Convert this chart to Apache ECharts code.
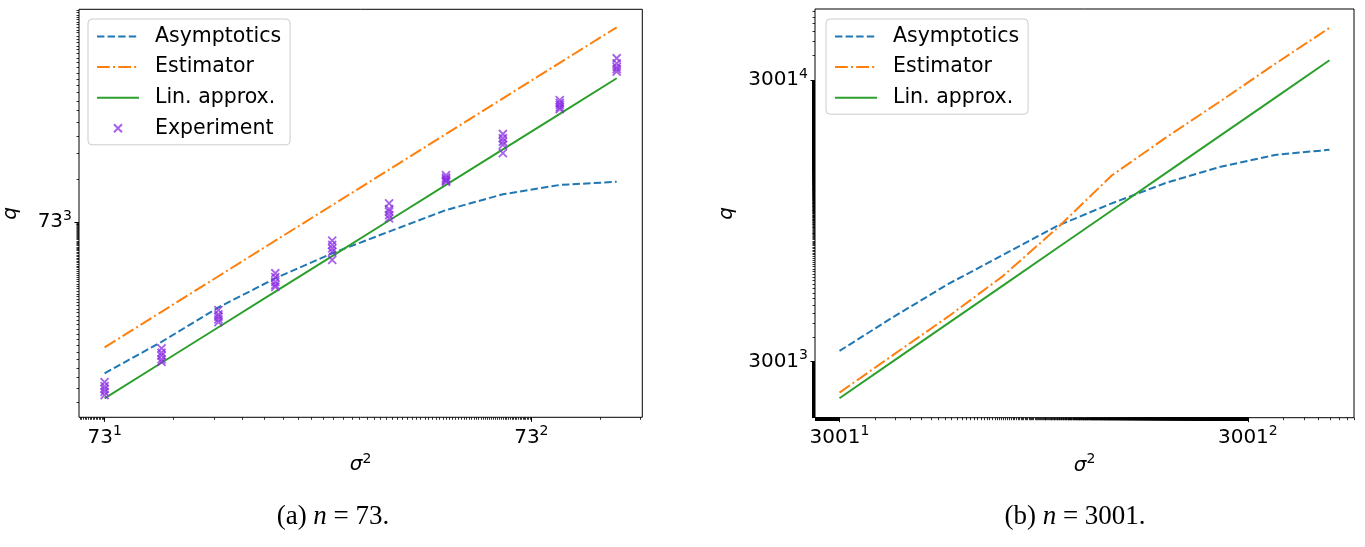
<!DOCTYPE html>
<html><head><meta charset="utf-8">
<script src="https://cdn.jsdelivr.net/npm/echarts@6/dist/echarts.min.js"></script>
<style>html,body{margin:0;padding:0;background:#fff}#c{width:1365px;height:547px}</style>
</head><body><div id="c"></div>
<script>
// ---------- panel (a): n = 73 ----------
const baseA = 73;
const sigmaA = [73, 129.4, 229.2, 406.1, 719.6, 1275, 2260, 4003, 7093, 12568];
const asymA  = [34160, 56660, 98560, 157300, 235500, 333400, 471800, 607700, 706300, 743600];
const estA   = [51800, 91800, 162600, 288200, 510600, 904700, 1604000, 2841000, 5033000, 8918000];
const linA   = [22820, 40450, 71650, 126900, 225000, 398600, 706500, 1251000, 2217000, 3929000];
const expA = [
  [29650, 27800, 26520, 25300, 24030],
  [50900, 47520, 45330, 42690, 41070],
  [94420, 88160, 84820, 81260, 77850],
  [170700, 160100, 148800, 141400, 137200],
  [288100, 269000, 254400, 241600, 211500],
  [525300, 478000, 459900, 434900, 413100],
  [827800, 793000, 772800, 756500, 743600],
  [1603000, 1497000, 1415000, 1344000, 1177000],
  [2764000, 2648000, 2559000, 2462000, 2389000],
  [5421000, 4995000, 4724000, 4545000, 4373000]
];
// ---------- panel (b): n = 3001 ----------
const baseB = 3001;
const sigmaB = [3001, 8730, 25390, 73820, 214700, 624300, 1816000, 5281000, 15360000, 44670000];
const asymB  = [3.664e10, 9.731e10, 2.463e11, 5.620e11, 1.282e12, 2.432e12, 4.364e12, 6.888e12, 9.641e12, 1.114e13];
const estB   = [1.120e10, 3.320e10, 9.770e10, 3.074e11, 1.205e12, 5.370e12, 1.585e13, 4.452e13, 1.281e14, 3.568e14];
const linB   = [9.545e9, 2.777e10, 8.075e10, 2.348e11, 6.828e11, 1.986e12, 5.775e12, 1.680e13, 4.885e13, 1.421e14];

// tick labels (exponents of the base) and axis limits (exponents)
const xTickExpA = [1, 2], yTickExpA = [3];
const xTickExpB = [1, 2], yTickExpB = [3, 4];
const xLimA = [0.94, 2.26], yLimA = [2.268, 3.7975];
const xLimB = [0.94, 2.26], yLimB = [2.801, 4.252];

const seriesNames = ['Asymptotics', 'Estimator', 'Lin. approx.', 'Experiment'];
const captions = [['(a) ', 'n', ' = 73.'], ['(b) ', 'n', ' = 3001.']];

const FONT = 'DejaVu Sans';
const C_BLUE = '#1f77b4', C_ORANGE = '#ff7f0e', C_GREEN = '#2ca02c', C_PURPLE = '#8a2be2';

function minorTicks(base, lo, hi) {
  const out = [];
  for (let e = Math.floor(lo); e <= Math.ceil(hi); e++) {
    const p = Math.pow(base, e);
    for (let k = 2; k < base; k++) {
      const le = e + Math.log(k) / Math.log(base);
      if (le >= lo && le <= hi) out.push(k * p);
    }
  }
  return out;
}
const tickRich = {
  b: {fontFamily: FONT, fontSize: 20, color: '#000', lineHeight: 26},
  s: {fontFamily: FONT, fontSize: 14, color: '#000', verticalAlign: 'top', lineHeight: 15}
};
const nameRich = {
  i: {fontFamily: FONT, fontStyle: 'italic', fontSize: 20, color: '#000', lineHeight: 26},
  s: {fontFamily: FONT, fontSize: 14, color: '#000', verticalAlign: 'top', lineHeight: 15}
};
function axes(dim, gridIndex, base, lim, majorsExp, name, nameGap, margin) {
  const min = Math.pow(base, lim[0]), max = Math.pow(base, lim[1]);
  const majors = majorsExp.map(e => Math.pow(base, e));
  const pos = dim === 'x' ? 'bottom' : 'left';
  return [{
    type: 'log', logBase: base, gridIndex, min, max, position: pos,
    axisLine: {show: false}, splitLine: {show: false},
    axisTick: {show: true, customValues: majors, length: 4.5, lineStyle: {color: '#000', width: 1}},
    axisLabel: {show: true, customValues: majors, margin,
      formatter: v => '{b|' + base + '}{s|' + Math.round(Math.log(v) / Math.log(base)) + '}', rich: tickRich},
    name, nameLocation: 'middle', nameGap, nameRotate: dim === 'y' ? 90 : 0,
    nameTextStyle: {rich: nameRich}
  }, {
    type: 'log', logBase: base, gridIndex, min, max, position: pos,
    axisLine: {show: false}, splitLine: {show: false}, axisLabel: {show: false},
    axisTick: {show: true, customValues: minorTicks(base, lim[0], lim[1]), length: 2.5,
      lineStyle: {color: '#000', width: 0.8}}
  }];
}
const pairs = (xs, ys) => xs.map((x, i) => [x, ys[i]]);
const expData = [];
sigmaA.forEach((s, i) => expA[i].forEach(q => expData.push([s, q])));

function lineSeries(name, data, xi, color, type) {
  return {
    name, type: 'line', data, xAxisIndex: xi, yAxisIndex: xi, symbol: 'none', showSymbol: false,
    lineStyle: {color, width: 2, type}, itemStyle: {color}, silent: true, animation: false, z: 3
  };
}
const DASH = [7.4, 3.2], DASHDOT = [12.8, 3.2, 2, 3.2];

const legendCommon = {
  orient: 'vertical', itemWidth: 42, itemHeight: 14, itemGap: 9.6,
  backgroundColor: 'rgba(255,255,255,0.8)', borderColor: '#cccccc', borderWidth: 1, borderRadius: 4,
  padding: [7, 9, 6, 8], selectedMode: false,
  textStyle: {fontFamily: FONT, fontSize: 20.5, color: '#000', padding: [0, 0, 0, 11], lineHeight: 20}
};
const noSym = {opacity: 0};
const xIcon = 'path://M0,0M3,3L11,11M11,3L3,11M14,14';

const option = {
  animation: false,
  backgroundColor: '#fff',
  grid: [
    {left: 77.6, top: 9.3, width: 564.7, height: 408, show: true, borderColor: '#000', borderWidth: 1, backgroundColor: 'transparent'},
    {left: 815, top: 9, width: 539, height: 408.7, show: true, borderColor: '#000', borderWidth: 1, backgroundColor: 'transparent'}
  ],
  xAxis: [
    ...axes('x', 0, baseA, xLimA, xTickExpA, '{i|σ}{s|2}', 32, 7),
    ...axes('x', 1, baseB, xLimB, xTickExpB, '{i|σ}{s|2}', 32, 7)
  ],
  yAxis: [
    ...axes('y', 0, baseA, yLimA, yTickExpA, '{i|q}', 55, 7),
    ...axes('y', 1, baseB, yLimB, yTickExpB, '{i|q}', 75, 7)
  ],
  legend: [
    Object.assign({}, legendCommon, {left: 88, top: 19,
      data: [
        {name: seriesNames[0], itemStyle: noSym},
        {name: seriesNames[1], itemStyle: noSym},
        {name: seriesNames[2], itemStyle: noSym},
        {name: seriesNames[3], icon: xIcon}
      ]}),
    Object.assign({}, legendCommon, {left: 826, top: 19,
      data: seriesNames.slice(0, 3).map(n => ({name: n, itemStyle: noSym}))})
  ],
  graphic: captions.map((c, i) => ({
    type: 'text', x: i === 0 ? 333 : 1075, y: 517, z: 10,
    style: {
      text: '{r|' + c[0] + '}{i|' + c[1] + '}{r|' + c[2] + '}',
      align: 'center', verticalAlign: 'middle',
      rich: {
        r: {fontFamily: 'Liberation Serif', fontSize: 27, color: '#000'},
        i: {fontFamily: 'Liberation Serif', fontStyle: 'italic', fontSize: 27, color: '#000'}
      }
    }
  })),
  series: [
    lineSeries(seriesNames[0], pairs(sigmaA, asymA), 0, C_BLUE, DASH),
    lineSeries(seriesNames[1], pairs(sigmaA, estA), 0, C_ORANGE, DASHDOT),
    lineSeries(seriesNames[2], pairs(sigmaA, linA), 0, C_GREEN, 'solid'),
    {
      name: seriesNames[3], type: 'scatter', data: expData, xAxisIndex: 0, yAxisIndex: 0,
      symbol: 'path://M0,0L8,8M8,0L0,8', symbolSize: 8, silent: true, z: 4,
      itemStyle: {color: 'rgba(138,43,226,0)', borderColor: C_PURPLE, borderWidth: 1.8, opacity: 0.75}
    },
    lineSeries(seriesNames[0], pairs(sigmaB, asymB), 2, C_BLUE, DASH),
    lineSeries(seriesNames[1], pairs(sigmaB, estB), 2, C_ORANGE, DASHDOT),
    lineSeries(seriesNames[2], pairs(sigmaB, linB), 2, C_GREEN, 'solid')
  ]
};
const chart = echarts.init(document.getElementById('c'));
chart.setOption(option);
</script>
</body></html>
